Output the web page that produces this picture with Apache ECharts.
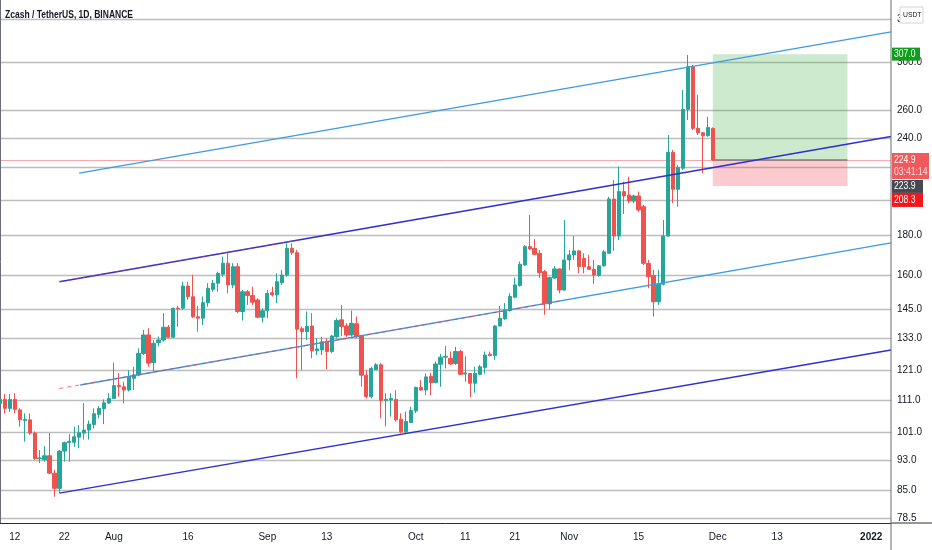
<!DOCTYPE html>
<html><head><meta charset="utf-8">
<script src="https://cdn.jsdelivr.net/npm/echarts@6/dist/echarts.min.js"></script>
<style>html,body{margin:0;padding:0;background:#fff}#c{width:932px;height:550px}</style>
</head><body><div id="c"></div>
<script>
const FONT = '"Liberation Sans Narrow","Liberation Sans",Arial,sans-serif';

// ---- data: daily candles [open, close, low, high] ----
const startDate = '2021-07-09';
const dayCount = 181; // axis runs Jul 9 2021 .. Jan 5 2022
const jul = [
 [109.9,111.2,108.5,112.5],[111.2,108.3,106.7,113.0],[108.3,111.2,107.2,113.0],[111.2,108.0,106.7,113.2],
 [107.8,104.7,102.6,108.3],[104.5,104.8,98.2,106.7],[104.7,100.7,100.2,106.7],[100.7,93.4,93.1,101.2],
 [93.4,93.6,92.2,95.8],[93.1,94.2,92.6,96.9],[94.2,89.5,89.3,100.7],[89.5,85.6,83.5,90.4],
 [85.6,95.5,84.4,95.8],[95.5,97.9,92.6,98.2],[97.9,98.3,92.6,100.4],[98.0,99.6,96.7,102.6],
 [99.5,100.8,96.3,103.1],[100.7,101.6,98.8,110.0],[101.6,103.4,98.8,104.5],[103.3,106.6,102.1,108.3],
 [106.4,108.3,105.2,109.0],[108.2,110.1,103.4,111.2],[110.0,111.5,109.8,113.2]
];
const aug = [
 [111.5,115.8,111.3,123.9],[115.8,115.4,112.1,120.1],[115.4,114.3,109.9,117.1],[114.3,118.9,113.8,121.2],
 [118.3,119.5,114.3,122.4],[119.5,127.3,119.0,129.2],[127.3,134.4,126.7,136.4],[134.4,123.7,122.4,137.1],
 [123.9,131.1,120.7,132.4],[131.4,132.4,130.0,133.8],[132.4,137.5,131.8,143.3],[137.5,133.5,133.1,138.4],
 [133.5,145.4,133.1,145.6],[145.4,145.1,137.7,146.4],[145.4,155.2,144.6,157.2],[155.2,150.4,149.0,157.2],
 [150.4,141.8,141.2,160.4],[141.8,141.2,135.7,146.4],[141.2,147.8,138.4,150.5],[147.8,154.2,146.1,156.5],
 [153.7,156.5,152.6,158.0],[156.5,161.1,152.6,161.9],[160.7,166.0,159.5,169.2],[166.0,155.7,151.9,170.9],
 [155.7,164.3,154.2,166.0],[164.3,144.0,143.3,166.0],[144.0,152.6,140.2,153.4],[152.6,150.9,146.8,153.4],
 [150.9,148.0,146.8,154.9],[149.0,141.6,141.2,149.7],[141.6,144.3,139.4,145.4]
];
const sep = [
 [144.3,151.9,141.2,153.4],[152.2,151.2,150.5,154.9],[151.2,157.2,147.6,161.1],[156.7,160.3,155.7,162.7],
 [160.3,173.4,159.5,176.0],[173.4,171.2,170.1,176.0],[171.2,136.7,118.3,172.6],[136.9,135.7,121.2,137.8],
 [135.7,137.8,132.4,144.0],[138.0,128.3,125.5,143.3],[128.3,129.0,126.7,133.1],[128.6,131.7,126.7,133.7],
 [131.7,128.0,121.5,133.1],[128.0,134.0,127.4,134.4],[133.7,140.2,133.1,141.2],[140.5,137.8,134.0,146.8],
 [138.0,134.4,133.7,139.1],[134.4,139.1,133.7,144.4],[138.9,133.7,133.1,141.9],[134.0,119.4,115.4,134.4],
 [119.4,112.1,111.5,121.2],[112.1,121.8,111.5,122.4],[121.4,123.1,121.2,123.7],[123.1,110.8,105.2,123.7],
 [110.8,111.2,102.7,113.2],[111.0,111.5,105.7,113.2],[111.2,104.7,104.2,114.3],[104.9,101.1,100.6,106.7],
 [101.1,104.2,100.6,107.3],[103.9,107.6,103.7,108.8]
];
const oct = [
 [107.5,115.2,106.8,115.4],[115.2,114.3,114.1,117.7],[114.3,118.8,112.6,120.0],[119.0,116.8,112.6,120.2],
 [116.8,123.4,116.6,124.3],[123.3,125.9,115.4,127.1],[125.9,126.2,121.8,130.1],[125.5,123.4,123.1,128.0],
 [123.6,128.0,123.1,129.8],[128.0,119.7,119.4,128.6],[119.8,120.2,117.1,126.2],[120.0,116.6,111.9,120.2],
 [116.6,120.0,113.4,122.4],[119.7,122.4,119.4,123.1],[122.1,126.7,120.0,128.0],[127.0,126.5,126.2,128.0],
 [126.5,138.0,124.9,138.4],[138.0,141.2,137.8,146.4],[140.9,144.7,140.5,147.6],[144.4,150.5,144.0,151.9],
 [150.2,155.7,149.7,159.1],[155.4,165.5,154.9,166.8],[165.1,174.3,164.7,175.0],[174.3,173.1,172.6,191.3],
 [173.4,170.4,170.0,178.1],[170.9,161.4,158.9,172.6],[161.9,147.3,142.6,162.7],[147.3,159.1,144.7,159.5],
 [158.9,163.2,158.5,164.6],[163.2,153.4,151.9,163.5],[153.4,167.6,153.1,188.5]
];
const nov = [
 [167.6,170.1,162.7,172.6],[170.1,172.1,167.6,179.8],[172.1,164.3,161.1,172.6],[168.4,164.3,161.1,170.9],
 [164.3,163.0,162.7,170.1],[163.0,160.3,156.2,167.6],[160.1,164.7,159.5,165.1],[164.7,171.6,164.3,172.6],
 [170.9,200.5,170.6,201.8],[200.5,179.8,172.2,212.0],[179.8,204.9,177.7,220.5],[204.9,202.3,191.8,210.9],
 [202.9,199.3,198.0,214.1],[199.3,202.3,198.0,202.9],[202.3,194.1,193.1,204.9],[196.0,165.9,165.1,197.0],
 [165.9,159.5,154.2,167.6],[160.1,148.2,141.9,162.7],[148.2,156.0,146.8,162.7],[156.0,179.8,155.5,188.5],
 [179.8,230.0,179.5,242.0],[230.0,206.3,198.0,231.6],[206.3,219.9,196.0,221.6],[219.5,261.0,218.4,276.3],
 [261.0,295.9,252.9,306.2],[295.9,246.8,245.6,297.4],[246.8,243.6,242.0,272.3],[243.6,241.5,216.3,244.3],
 [241.5,247.5,240.8,255.4],[246.8,224.9,224.4,247.5]
];

// ---- axis ticks ----
const yTicks = [340, 300, 260, 240, 220, 200, 180, 160, 145, 133, 121, 111, 101, 93, 85, 78.5];
const yMin = 77.3, yMax = 360;
const xTickDates = ['2021-07-12','2021-07-22','2021-08-01','2021-08-16','2021-09-01','2021-09-13',
  '2021-10-01','2021-10-11','2021-10-21','2021-11-01','2021-11-15','2021-12-01','2021-12-13','2022-01-01'];
const xTickLabels = ['12','22','Aug','16','Sep','13','Oct','11','21','Nov','15','Dec','13','2022'];

// ---- drawings: [dayIndex from Jul 9, price] ----
const upperLight = [[16, 216.4], [180, 327.7]];
const upperDark = [[12, 157.2], [180, 241.0]];
const upperDash = [[12, 157.2], [60, 177.6]];
const midLight = [[16.2, 116.0], [180, 176.2]];
const midDash = [[12, 114.8], [113, 148.4]];
const lowerDark = [[12, 84.4], [180, 128.6]];
const target = 307.0, entry = 224.9, stop = 208.3, lastMark = 223.9;
const boxStart = 144, boxEnd = 171.2;
const titleText = 'Zcash / TetherUS, 1D, BINANCE';
const countdown = '03:41:14';

// ---- build ----
const candles = jul.concat(aug, sep, oct, nov);
const dates = [];
{
  const d0 = new Date(startDate + 'T00:00:00Z');
  for (let i = 0; i < dayCount; i++) {
    const d = new Date(d0.getTime() + i * 86400000);
    dates.push(d.toISOString().slice(0, 10));
  }
}
const tickMap = {};
xTickDates.forEach((d, i) => tickMap[d] = xTickLabels[i]);

const chart = echarts.init(document.getElementById('c'), null, {renderer: 'canvas'});
const lineSeries = (data, color, width, type, z) => ({
  type: 'line', xAxisIndex: 1, yAxisIndex: 0, data, symbol: 'none', silent: true, z,
  lineStyle: {color, width, type}, animation: false
});
chart.setOption({
  animation: false,
  backgroundColor: '#ffffff',
  grid: {left: 0, right: 41, top: 0, bottom: 27, containLabel: false},
  xAxis: [{
    type: 'category', data: dates, boundaryGap: false,
    axisLine: {lineStyle: {color: '#2a2e39', width: 1}},
    axisTick: {show: false}, splitLine: {show: false},
    axisLabel: {
      interval: (i, v) => tickMap[v] !== undefined,
      formatter: v => v === '2022-01-01' ? '{b|2022}' : tickMap[v],
      color: '#131722', fontSize: 10, fontFamily: FONT, margin: 9,
      rich: {b: {fontWeight: 'bold', fontSize: 10, fontFamily: FONT, color: '#131722'}}
    }
  }, {
    type: 'value', min: 0, max: dayCount - 1, show: false
  }],
  yAxis: [{
    type: 'log', logBase: 10, min: yMin, max: yMax, position: 'right',
    axisLine: {show: true, lineStyle: {color: '#6a6d78'}},
    axisTick: {show: false}, axisLabel: {show: false}, splitLine: {show: false}, minorSplitLine: {show: false}
  }],
  series: [
    {
      type: 'line', xAxisIndex: 1, yAxisIndex: 0, data: [[0, 300]], symbol: 'none', silent: true, z: 0,
      lineStyle: {opacity: 0},
      markLine: {
        silent: true, symbol: 'none', z: 0, animation: false,
        data: yTicks.map(v => ({yAxis: v, label: {formatter: v.toFixed(1)}})).concat([
          {yAxis: entry, lineStyle: {color: '#f7a8ae', width: 1, type: 'solid'}, label: {show: false}}
        ]),
        lineStyle: {color: '#bdbdbd', width: 1.3, type: 'solid'},
        label: {show: true, position: 'end', distance: 6, color: '#131722', fontSize: 10, fontFamily: FONT}
      }
    },
    {
      type: 'line', xAxisIndex: 1, yAxisIndex: 0, symbol: 'none', silent: true, z: 1,
      data: [[boxStart, entry], [boxEnd, entry]],
      lineStyle: {color: '#7d7f86', width: 1.5},
      markArea: {
        silent: true, z: 1,
        data: [
          [{coord: [boxStart, target], itemStyle: {color: 'rgba(76,175,80,0.28)'}}, {coord: [boxEnd, entry]}],
          [{coord: [boxStart, entry], itemStyle: {color: 'rgba(242,54,69,0.26)'}}, {coord: [boxEnd, stop]}]
        ]
      }
    },
    {
      type: 'candlestick', xAxisIndex: 0, yAxisIndex: 0, data: candles, z: 2, barWidth: 3.8,
      itemStyle: {color: '#26a69a', color0: '#ef5350', borderColor: '#26a69a', borderColor0: '#ef5350', borderWidth: 1}
    },
    lineSeries(upperLight, '#3d9be3', 1.3, 'solid', 3),
    lineSeries(upperDark, '#2c30d4', 1.5, 'solid', 3),
    lineSeries(midLight, '#3d9be3', 1.3, 'solid', 3),
    lineSeries(lowerDark, '#2c30d4', 1.5, 'solid', 3),
    lineSeries(upperDash, 'rgba(242,54,69,0.55)', 1, [4, 4], 4),
    lineSeries(midDash, 'rgba(242,54,69,0.75)', 1, [4, 4], 4)
  ]
});

// ---- right-side price labels, title & frame pieces ----
const py = v => chart.convertToPixel({yAxisIndex: 0}, v);
const ax = 892;
const yT = py(target), yE = py(entry);
const txt = (x, y, t, color, size, weight, sx) => ({
  type: 'text', z: 100, x, y, scaleX: sx || 0.82,
  style: {text: t, x: 0, y: 0, fill: color, font: `${weight || 'normal'} ${size}px ${FONT}`,
    textAlign: 'left', textVerticalAlign: 'middle', verticalAlign: 'middle'}
});
const rect = (x, y, w, h, fill, stroke) => ({
  type: 'rect', z: 99, shape: {x, y, width: w, height: h}, style: {fill, stroke: stroke || null, lineWidth: 1}
});
const eTop = yE - 7;
chart.setOption({
  graphic: [
    txt(5, 15, titleText, '#131722', 11.5, 'bold', 0.74),
    {type: 'line', z: 98, shape: {x1: ax - 1, y1: 523, x2: 932, y2: 523}, style: {stroke: '#2a2e39', lineWidth: 1}},
    {type: 'line', z: 98, shape: {x1: ax - 1, y1: 0, x2: ax - 1, y2: 550}, style: {stroke: '#6a6d78', lineWidth: 1}},
    rect(900, 7, 23, 16, '#ffffff', '#d1d4dc'),
    txt(903, 15, 'USDT', '#131722', 8, 'normal', 0.85),
    rect(ax, yT - 6.5, 28, 13, '#0f9d1c'),
    txt(ax + 2, yT, target.toFixed(1), '#ffffff', 10.5),
    rect(ax, eTop, 37, 26, '#f05a5c'),
    txt(ax + 2, yE, entry.toFixed(1), '#ffffff', 10.5),
    txt(ax + 2, yE + 12, countdown, '#ffe3e3', 10.5),
    rect(ax, eTop + 27, 31, 13, '#464952'),
    txt(ax + 2, eTop + 33.5, lastMark.toFixed(1), '#ffffff', 10.5),
    rect(ax, eTop + 40, 31, 14, '#f5161b'),
    txt(ax + 2, eTop + 47, stop.toFixed(1), '#ffffff', 10.5)
  ]
});
</script>
</body></html>
